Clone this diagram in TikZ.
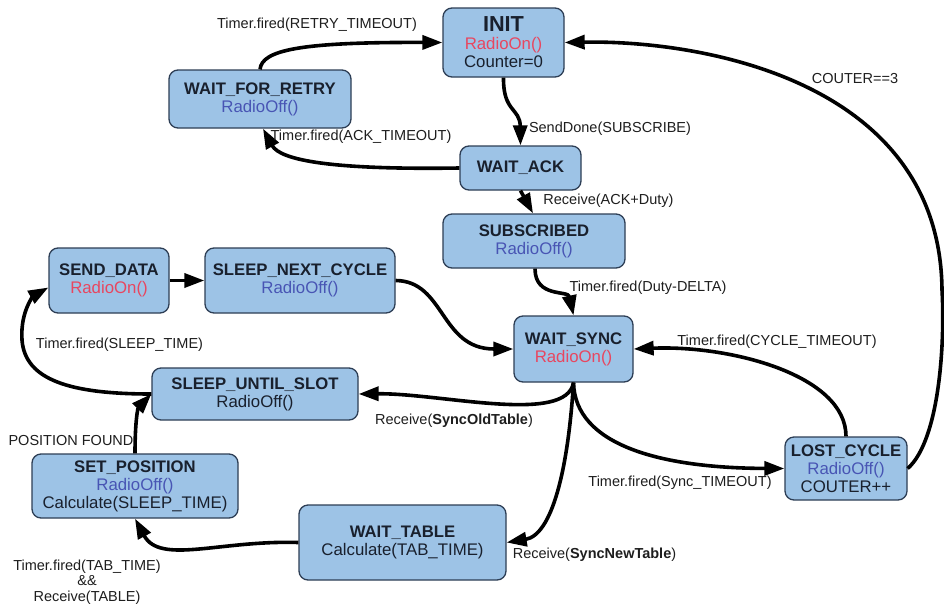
\documentclass[tikz,border=0pt]{standalone}
\usepackage{fontspec}
\setmainfont{Liberation Sans}
\usetikzlibrary{arrows.meta}

\definecolor{stfill}{RGB}{157,195,230}
\definecolor{stdraw}{RGB}{45,62,85}
\definecolor{sttext}{RGB}{25,32,45}
\definecolor{radioon}{RGB}{232,70,95}
\definecolor{radiooff}{RGB}{72,85,180}
\definecolor{lbltext}{RGB}{30,30,30}

\newcommand\stname[1]{{\fontsize{16.7}{18}\selectfont\bfseries #1}}
\newcommand\ron{\textcolor{radioon}{RadioOn()}}
\newcommand\roff{\textcolor{radiooff}{RadioOff()}}

\tikzset{
  state/.style={draw=stdraw, line width=1.3pt, fill=stfill, rounded corners=9pt,
    align=center, inner sep=0pt, text=sttext,
    font=\fontsize{16.8}{18}\selectfont},
  trans/.style={line width=3.6pt, draw=black,
    -{Triangle[length=20pt,width=14pt]}},
  lbl/.style={inner sep=0pt, text=lbltext, align=center,
    font=\fontsize{14.5}{15.5}\selectfont}
}

\begin{document}
\begin{tikzpicture}[x=1pt,y=-1pt]
\useasboundingbox[fill=white] (0,0) rectangle (944,608);

% states
\node[state, minimum width=121pt, minimum height=69pt] (init) at (503.5,42.5)
  {{\fontsize{21.7}{18}\selectfont\bfseries INIT}\\\ron\\Counter=0};
\node[state, minimum width=182pt, minimum height=58pt] (wfr) at (260,99)
  {\stname{WAIT\_FOR\_RETRY}\\\roff};
\node[state, minimum width=121pt, minimum height=44pt] (wack) at (520.5,168)
  {\stname{WAIT\_ACK}};
\node[state, minimum width=182pt, minimum height=54pt] (subs) at (534,241)
  {\stname{SUBSCRIBED}\\\roff};
\node[state, minimum width=120pt, minimum height=65pt] (send) at (109,280.5)
  {\stname{SEND\_DATA}\\\ron};
\node[state, minimum width=190pt, minimum height=65pt] (snc) at (300,280.5)
  {\stname{SLEEP\_NEXT\_CYCLE}\\\roff};
\node[state, minimum width=119pt, minimum height=66pt] (wsync) at (573.5,349)
  {\stname{WAIT\_SYNC}\\\ron};
\node[state, minimum width=206pt, minimum height=52pt] (sus) at (255,394)
  {\stname{SLEEP\_UNTIL\_SLOT}\\RadioOff()};
\node[state, minimum width=206pt, minimum height=64pt] (setp) at (135,486)
  {\stname{SET\_POSITION}\\\roff\\Calculate(SLEEP\_TIME)};
\node[state, minimum width=207pt, minimum height=75pt] (wt) at (402.5,542.5)
  {\stname{WAIT\_TABLE}\\Calculate(TAB\_TIME)};
\node[state, minimum width=122pt, minimum height=63pt] (lost) at (846,468.5)
  {\stname{LOST\_CYCLE}\\\roff\\COUTER++};

% transitions
\draw[trans] (wfr.north) .. controls (262,50) and (300,42) .. (init.west);
\draw[trans] (init.south) .. controls (503,112) and (520,108) .. (wack.north);
\draw[trans] (wack.west) .. controls (330,170) and (280,160) .. ([xshift=3pt]wfr.south);
\draw[trans] (wack.south) -- ([xshift=-1pt]subs.north);
\draw[trans] ([xshift=1pt]subs.south) .. controls (535,298) and (568,290) .. (wsync.north);
\draw[trans] (send.east) -- (snc.west);
\draw[trans] (snc.east) .. controls (445,281) and (440,349) .. (wsync.west);
\draw[trans] (lost.north) .. controls (846,375) and (730,345) .. (wsync.east);
\draw[trans] (wsync.south) .. controls (575,445) and (660,468) .. (lost.west);
\draw[trans] (wsync.south) .. controls (566,425) and (440,393) .. (sus.east);
\draw[trans] (wsync.south) .. controls (568,470) and (552,535) .. (wt.east);
\draw[trans] (lost.east) .. controls (940,440) and (945,340) .. (942,290)
  .. controls (940,80) and (700,40) .. (init.east);
\draw[trans] (sus.west) .. controls (70,394) and (25,380) .. (22,340)
  .. controls (20,310) and (35,295) .. ([yshift=-7pt]send.west);
\draw[trans] (setp.north) .. controls (135,420) and (138,408) .. (sus.west);
\draw[trans] (wt.west) .. controls (220,540) and (160,565) .. (setp.south);

% transition labels
\node[lbl] (l1) at (317,25) {Timer.fired(RETRY\_TIMEOUT)};
\node[lbl] (l2) at (610,129) {SendDone(SUBSCRIBE)};
\node[lbl] (l3) at (361,137) {Timer.fired(ACK\_TIMEOUT)};
\node[lbl] (l4) at (608.5,201) {Receive(ACK+Duty)};
\node[lbl] (l5) at (648,288) {Timer.fired(Duty-DELTA)};
\node[lbl] (l6) at (855,79) {COUTER==3};
\node[lbl] (l7) at (119.5,345) {Timer.fired(SLEEP\_TIME)};
\node[lbl] (l8) at (777,342) {Timer.fired(CYCLE\_TIMEOUT)};
\node[lbl] (l9) at (454,421) {Receive(\textbf{SyncOldTable})};
\node[lbl] (l10) at (680,483) {Timer.fired(Sync\_TIMEOUT)};
\node[lbl] (l11) at (71,441) {POSITION FOUND};
\node[lbl] (l12) at (594.5,555) {Receive(\textbf{SyncNewTable})};
\node[lbl] (l13) at (87,582) {Timer.fired(TAB\_TIME)\\\&\&\\Receive(TABLE)};
\end{tikzpicture}
\end{document}
